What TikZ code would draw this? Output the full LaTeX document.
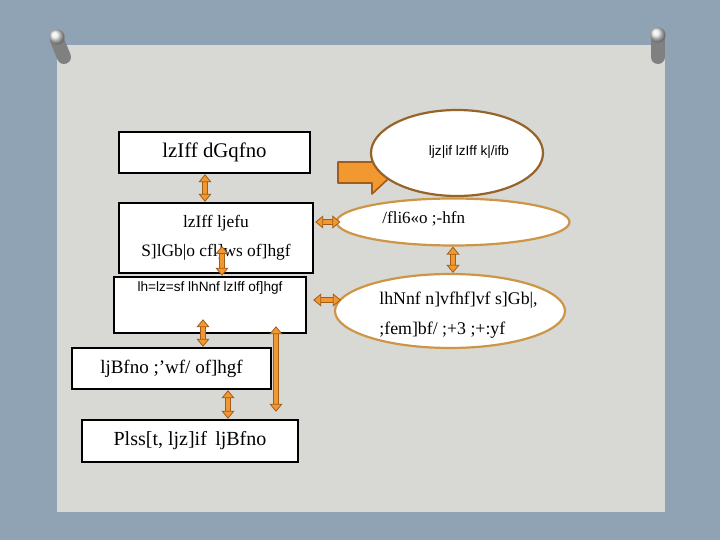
\documentclass[tikz,border=0pt]{standalone}
\usepackage{fontspec}
\setmainfont{Liberation Serif}
\newfontfamily\pinsans{Liberation Sans}
\usetikzlibrary{arrows.meta,calc,shapes.geometric}
\definecolor{slate}{RGB}{143,163,180}
\definecolor{paper}{RGB}{216,216,212}
\definecolor{amber}{RGB}{242,152,48}
\definecolor{amberdk}{RGB}{160,92,24}
\definecolor{rimdk}{RGB}{150,100,40}
\definecolor{rim}{RGB}{205,150,70}
\newcommand\fsz[2]{\fontsize{#1}{#2}\selectfont}
\tikzset{
  >={Triangle[length=4pt,width=6.5pt,fill=amber,color=amberdk,line width=0.4pt]},
  bx/.style 2 args={draw,fill=white,line width=1.2pt,minimum width=#1,minimum height=#2,inner sep=0pt,align=center},
  el/.style 2 args={ellipse,fill=white,line width=1.1pt,minimum width=#1,minimum height=#2,inner sep=0pt},
  txt/.style={inner sep=0pt,align=left},
  sans/.style={inner sep=0pt,font=\pinsans\fsz{6.8}{8}},
  dbl/.style={draw=amber,line width=2pt,<->,preaction={draw=amberdk,line width=3pt,arrows=-,shorten <=3.8pt,shorten >=3.8pt}},
  pinbody/.style={line width=7pt,line cap=round,draw=black!50},
  pinhead/.style={ball color=white!92!black},
  blockar/.style={fill=amber,draw=amberdk,line width=0.8pt,line join=round},
}
\begin{document}
\begin{tikzpicture}[x=0.5pt,y=-0.5pt]
\useasboundingbox (0,0) rectangle (720,540);
\fill[slate] (0,0) rectangle (720,540);
\fill[paper] (57,45) rectangle (665,512);
\draw[pinbody] (57,40) -- (64,57); \shade[pinhead] (57,37) circle (3.8pt);
\draw[pinbody] (658,38) -- (658,57); \shade[pinhead] (658,35) circle (3.8pt);
\filldraw[blockar] (338,162) -- (372,162) -- (372,151) -- (395,172.5) -- (372,194) -- (372,183) -- (338,183) -- cycle;
\node[el={86pt}{43pt},draw=rimdk] (e1) at (457,153) {};
\node[el={116.5pt}{23.5pt},draw=rim] (e2) at (453,222) {};
\node[el={115pt}{37pt},draw=rim] (e3) at (450,311) {};
\node[sans] (t1) at (469,152) {ljz|if lzIff k|/ifb};
\node[txt,anchor=west,font=\fsz{8.5}{15}] (t2) at (382,219) {/fli6«o ;-hfn};
\node[txt,anchor=north west,font=\fsz{8.9}{15}] (t3) at (379,292) {lhNnf n]vfhf]vf s]Gb|,\\;fem]bf/ ;+3 ;+:yf};
\node[bx={95.5pt}{20.5pt},font=\fsz{10.4}{12}] (b1) at (214.5,152.5) {\raisebox{2pt}{lzIff dGqfno}};
\node[bx={97pt}{35pt},font=\fsz{8.7}{14.5}] (b2) at (216,238) {lzIff ljefu\\S]lGb|o cfl]ws of]hgf};
\node[bx={96pt}{28pt}] (b3) at (210,305) {};
\node[sans,anchor=north] (t4) at ([yshift=-2.5pt]b3.north) {lh=lz=sf lhNnf lzIff of]hgf};
\node[bx={99.5pt}{20.5pt},font=\fsz{9.5}{12}] (b4) at (171.5,368.5) {\raisebox{1.5pt}{ljBfno ;'wf/ of]hgf}};
\node[bx={108pt}{21pt},font=\fsz{10}{12}] (b5) at (190,441) {\raisebox{2pt}{Plss[t, ljz]if\, ljBfno}};
\draw[dbl] ([xshift=-4.75pt]b1.south) -- ([xshift=-4.75pt]b1.south |- b2.north);
\draw[dbl] ($(b2.center)+(3pt,-4pt)$) -- ($(b2.center |- b3.north)+(3pt,0)$);
\draw[dbl] ($(b3.south)+(-3.5pt,7.5pt)$) -- ($(b3.south |- b4.north)+(-3.5pt,0)$);
\draw[dbl] ($(b4.south)+(28.25pt,0)$) -- ($(b4.south |- b5.north)+(28.25pt,0)$);
\draw[dbl] ($(b3.south)+(33pt,4pt)$) -- ($(b3.south |- b5.north)+(33pt,3.5pt)$);
\draw[dbl] ($(e2.west -| b2.east)+(0.5pt,0)$) -- ($(e2.west)+(2.5pt,0)$);
\draw[dbl] ($(b3.east)+(3pt,2.5pt)$) -- ($(e3.west)+(3.5pt,5.5pt)$);
\draw[dbl] (e2.south) -- (e2.south |- e3.north);
\end{tikzpicture}
\end{document}
